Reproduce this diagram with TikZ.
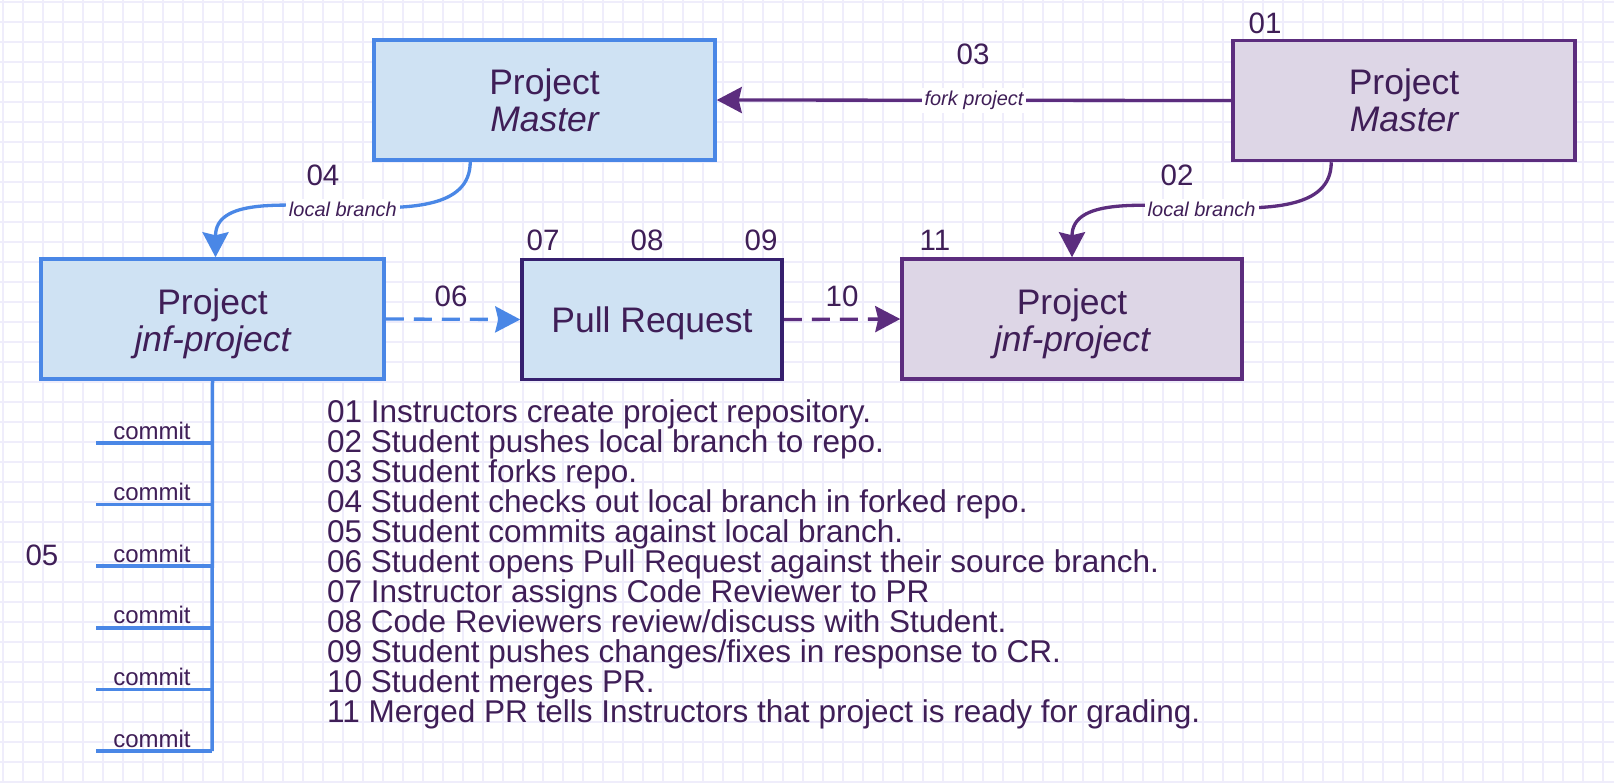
\documentclass[tikz,border=0pt]{standalone}
\usepackage{fontspec}
\setmainfont{Liberation Sans}
\usetikzlibrary{arrows.meta,calc}
\definecolor{gridc}{HTML}{EFEDFB}
\definecolor{bluestroke}{HTML}{4A87E6}
\definecolor{bluefill}{HTML}{CFE2F3}
\definecolor{purstroke}{HTML}{5C2D7E}
\definecolor{purfill}{HTML}{DDD6E6}
\definecolor{prstroke}{HTML}{36206E}
\definecolor{txt}{HTML}{3F1E57}
\newcommand{\lowtext}{\rule{0pt}{35pt}}
\begin{document}
\begin{tikzpicture}[x=1pt,y=-1pt,
  boxbase/.style={line width=3.5pt, text=txt, align=center, font=\fontsize{35.5}{37}\selectfont, inner sep=0pt, minimum height=120pt},
  bluebox/.style={boxbase, draw=bluestroke, fill=bluefill},
  purbox/.style={boxbase, draw=purstroke, fill=purfill},
  prbox/.style={boxbase, draw=prstroke, fill=bluefill},
  num/.style={text=txt, font=\fontsize{29.5}{29.5}\selectfont, inner sep=0pt},
  lbl/.style={fill=white, text=txt, font=\fontsize{20}{20}\selectfont\itshape, inner sep=3pt},
  tipstyle/.style={-{Stealth[length=25pt,width=26pt,inset=3pt]}},
  bluearrow/.style={draw=bluestroke, line width=3.3pt, tipstyle},
  purarrow/.style={draw=purstroke, line width=3.3pt, tipstyle},
  dashline/.style={dash pattern=on 18pt off 10pt},
  branchline/.style={draw=bluestroke, line width=3.5pt},
  commitlbl/.style={text=txt, font=\fontsize{24}{24}\selectfont, inner sep=0pt, anchor=base},
  listitem/.style={text=txt, font=\fontsize{31.5}{31.5}\selectfont, inner sep=0pt, anchor=base west},
  gridline/.style={draw=gridc, line width=1.3pt}
]
\useasboundingbox (0,0) rectangle (1614,782);
\fill[white] (0,0) rectangle (1614,782);
% grid
\foreach \i in {0,...,80} \draw[gridline] ({3+20*\i},0) -- ({3+20*\i},782);
\foreach \j in {0,...,39} \draw[gridline] (0,{2+20*\j}) -- (1614,{2+20*\j});

% boxes
\node[bluebox, minimum width=341pt] (lm) at (544.5,100) {Project\\\itshape Master};
\node[purbox, minimum width=342pt] (rm) at (1404,100.5) {Project\\\itshape Master};
\node[bluebox, minimum width=343pt] (lj) at (212.5,319) {\lowtext Project\\\itshape jnf-project};
\node[prbox, minimum width=260pt] (pr) at (652,319.5) {\rule{0pt}{33pt}Pull Request};
\node[purbox, minimum width=340pt] (rj) at (1072,319) {\lowtext Project\\\itshape jnf-project};

% numbers
\node[num] (n01) at (1265,23) {01};
\node[num] (n02) at (1177,175) {02};
\node[num] (n03) at (973,54) {03};
\node[num] (n04) at (323,175) {04};
\node[num] (n05) at (42,555) {05};
\node[num] (n06) at (451,296) {06};
\node[num] (n07) at (543,240) {07};
\node[num] (n08) at (647,240) {08};
\node[num] (n09) at (761,240) {09};
\node[num] (n10) at (842,296) {10};
\node[num] (n11) at (935,240) {11};

% connectors
\draw[purarrow] (rm.west) -- (lm.east) node[midway, lbl] {fork project};
\coordinate (lmout) at ($(lm.south west)+(98,0)$);
\coordinate (rmout) at ($(rm.south west)+(100,0)$);
\coordinate (ljin) at ($(lj.north)+(3,0)$);
\draw[bluearrow] (lmout) .. controls +(0,95) and +(0,-95) .. (ljin) node[pos=0.5, lbl] {local branch};
\draw[purarrow] (rmout) .. controls +(0,95) and +(0,-95) .. (rj.north) node[pos=0.5, lbl] {local branch};
\draw[bluearrow, dashline] (lj.east) -- (pr.west);
\draw[purarrow, dashline] (pr.east) -- (rj.west);

% commits
\coordinate (spinebottom) at (212,751);
\draw[branchline] (lj.south) -- (spinebottom);
\foreach \y [count=\k] in {443,504.6,566.2,627.8,689.4,751} {
  \coordinate (cl\k) at (96,\y);
  \coordinate (cr\k) at (212,\y);
  \draw[branchline] (cl\k) -- (cr\k);
  \node[commitlbl] (commit\k) at (152,\y-4) {commit};
}

% list
\foreach \t [count=\i] in {
  {01 Instructors create project repository.},
  {02 Student pushes local branch to repo.},
  {03 Student forks repo.},
  {04 Student checks out local branch in forked repo.},
  {05 Student commits against local branch.},
  {06 Student opens Pull Request against their source branch.},
  {07 Instructor assigns Code Reviewer to PR},
  {08 Code Reviewers review/discuss with Student.},
  {09 Student pushes changes/fixes in response to CR.},
  {10 Student merges PR.},
  {11 Merged PR tells Instructors that project is ready for grading.}} {
  \node[listitem] (item\i) at (327,{422+30*(\i-1)}) {\t};
}
\end{tikzpicture}
\end{document}
